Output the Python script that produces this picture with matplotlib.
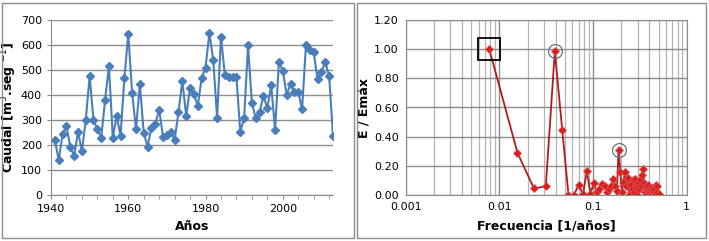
import matplotlib
matplotlib.use("Agg")
import matplotlib.pyplot as plt
from matplotlib.patches import Rectangle
from matplotlib.ticker import MultipleLocator, LogLocator, NullFormatter, FixedLocator

# serie anual de caudales
years = list(range(1941, 2014))
caudal = [220, 140, 243, 276, 193, 157, 253, 176, 300, 475,
          300, 263, 229, 380, 516, 229, 317, 236, 467, 645,
          409, 263, 443, 249, 193, 269, 285, 341, 233, 240,
          251, 220, 331, 457, 316, 429, 403, 356, 468, 509,
          647, 540, 309, 633, 481, 471, 471, 471, 253, 307,
          599, 369, 307, 333, 396, 347, 440, 260, 533, 497,
          401, 444, 413, 413, 343, 601, 580, 571, 463, 493,
          531, 476, 236]

# espectro normalizado
freq = [0.0078, 0.0156, 0.0234, 0.0313, 0.0391, 0.0469, 0.0547, 0.0625,
        0.0703, 0.0781, 0.0859, 0.0938, 0.1016, 0.1094, 0.1172, 0.1250,
        0.1328, 0.1406, 0.1484, 0.1563, 0.1641, 0.1719, 0.1797, 0.1875,
        0.1953, 0.2031, 0.2109, 0.2188, 0.2266, 0.2344, 0.2422, 0.2500,
        0.2578, 0.2656, 0.2734, 0.2813, 0.2891, 0.2969, 0.3047, 0.3125,
        0.3203, 0.3281, 0.3359, 0.3438, 0.3516, 0.3594, 0.3672, 0.3750,
        0.3828, 0.3906, 0.3984, 0.4063, 0.4141, 0.4219, 0.4297, 0.4375,
        0.4453, 0.4531, 0.4609, 0.4688, 0.4766, 0.4844, 0.4922, 0.5000]
energia = [1.00, 0.29, 0.045, 0.06, 0.985, 0.445, 0.0, 0.0,
           0.07, 0.005, 0.165, 0.01, 0.08, 0.02, 0.04, 0.075,
           0.06, 0.02, 0.04, 0.06, 0.11, 0.06, 0.03, 0.31,
           0.16, 0.02, 0.09, 0.16, 0.06, 0.12, 0.0, 0.07,
           0.04, 0.10, 0.02, 0.11, 0.05, 0.0, 0.08, 0.04,
           0.10, 0.06, 0.14, 0.18, 0.08, 0.02, 0.06, 0.01,
           0.03, 0.07, 0.02, 0.04, 0.0, 0.05, 0.01, 0.03,
           0.0, 0.04, 0.01, 0.07, 0.02, 0.065, 0.0, 0.005]
square_idx = [0]
circle_idx = [4, 23]

W, H = 709, 241
fig = plt.figure(figsize=(W / 100, H / 100), dpi=100)
plt.rcParams["font.family"] = ["DejaVu Sans"]

# bordes de los dos graficos
for x0, x1 in [(2, 354), (357, 706)]:
    fig.patches.append(Rectangle((x0 / W, 3 / H), (x1 - x0) / W, (H - 6) / H,
                                 transform=fig.transFigure, fill=False,
                                 edgecolor="#8c8c8c", linewidth=1.0))

grid_c = "#8c8c8c"

# --- izquierda
ax1 = fig.add_axes([51 / W, 1 - 195 / H, 282 / W, 175 / H])
ax1.plot(years, caudal, color="#4a7ebb", linewidth=1.5, marker="D",
         markersize=4.5, markerfacecolor="#4a7ebb", markeredgecolor="#4a7ebb")
ax1.set_xlim(1940, 2013)
ax1.set_ylim(0, 700)
ax1.xaxis.set_major_locator(FixedLocator([1940, 1960, 1980, 2000]))
ax1.xaxis.set_minor_locator(MultipleLocator(4))
ax1.yaxis.set_major_locator(MultipleLocator(100))
ax1.grid(axis="y", color=grid_c, linewidth=1.0)
ax1.set_axisbelow(True)
for s in ["top", "right"]:
    ax1.spines[s].set_visible(False)
for s in ["left", "bottom"]:
    ax1.spines[s].set_color(grid_c)
ax1.tick_params(axis="both", which="both", colors=grid_c, labelcolor="black",
                labelsize=8, length=3, direction="out")
ax1.set_xlabel("Años", fontsize=9, fontweight="bold")
ax1.set_ylabel("Caudal [m$^3$.seg $^{-1}$]", fontsize=9, fontweight="bold")
ax1.xaxis.set_label_coords(0.5, -0.14)
ax1.yaxis.set_label_coords(-0.112, 0.5)

# --- derecha
ax2 = fig.add_axes([405.7 / W, 1 - 195 / H, 281 / W, 175 / H])
ax2.plot(freq, energia, color="#b01c1c", linewidth=1.3, marker="D",
         markersize=4.2, markerfacecolor="#d42020", markeredgecolor="#e05050",
         markeredgewidth=0.6)
ax2.set_xscale("log")
ax2.set_xlim(0.001, 1)
ax2.set_ylim(0, 1.2)
ax2.xaxis.set_major_locator(LogLocator(base=10))
ax2.xaxis.set_minor_locator(LogLocator(base=10, subs=range(2, 10)))
ax2.xaxis.set_minor_formatter(NullFormatter())
ax2.set_xticks([0.001, 0.01, 0.1, 1])
ax2.set_xticklabels(["0.001", "0.01", "0.1", "1"])
ax2.yaxis.set_major_locator(MultipleLocator(0.2))
ax2.yaxis.set_major_formatter(matplotlib.ticker.FormatStrFormatter("%.2f"))
ax2.grid(which="major", color=grid_c, linewidth=1.0)
ax2.grid(which="minor", axis="x", color="#b4b4b4", linewidth=0.9)
ax2.set_axisbelow(True)
for s in ax2.spines.values():
    s.set_color(grid_c)
ax2.tick_params(axis="both", which="both", length=0, labelsize=8, pad=5)

sq_f = [freq[i] for i in square_idx]
sq_e = [energia[i] for i in square_idx]
ax2.plot(sq_f, sq_e, linestyle="none", marker="s", markersize=16,
         markerfacecolor="none", markeredgecolor="black", markeredgewidth=1.3)
ci_f = [freq[i] for i in circle_idx]
ci_e = [energia[i] for i in circle_idx]
ax2.plot(ci_f, ci_e, linestyle="none", marker="o", markersize=10,
         markerfacecolor="none", markeredgecolor="#707070", markeredgewidth=0.9)

ax2.set_xlabel("Frecuencia [1/años]", fontsize=9, fontweight="bold")
ax2.set_ylabel("E / Emáx", fontsize=9, fontweight="bold")
ax2.xaxis.set_label_coords(0.5, -0.14)
ax2.yaxis.set_label_coords(-0.125, 0.5)

fig.savefig("out.png", dpi=100)
